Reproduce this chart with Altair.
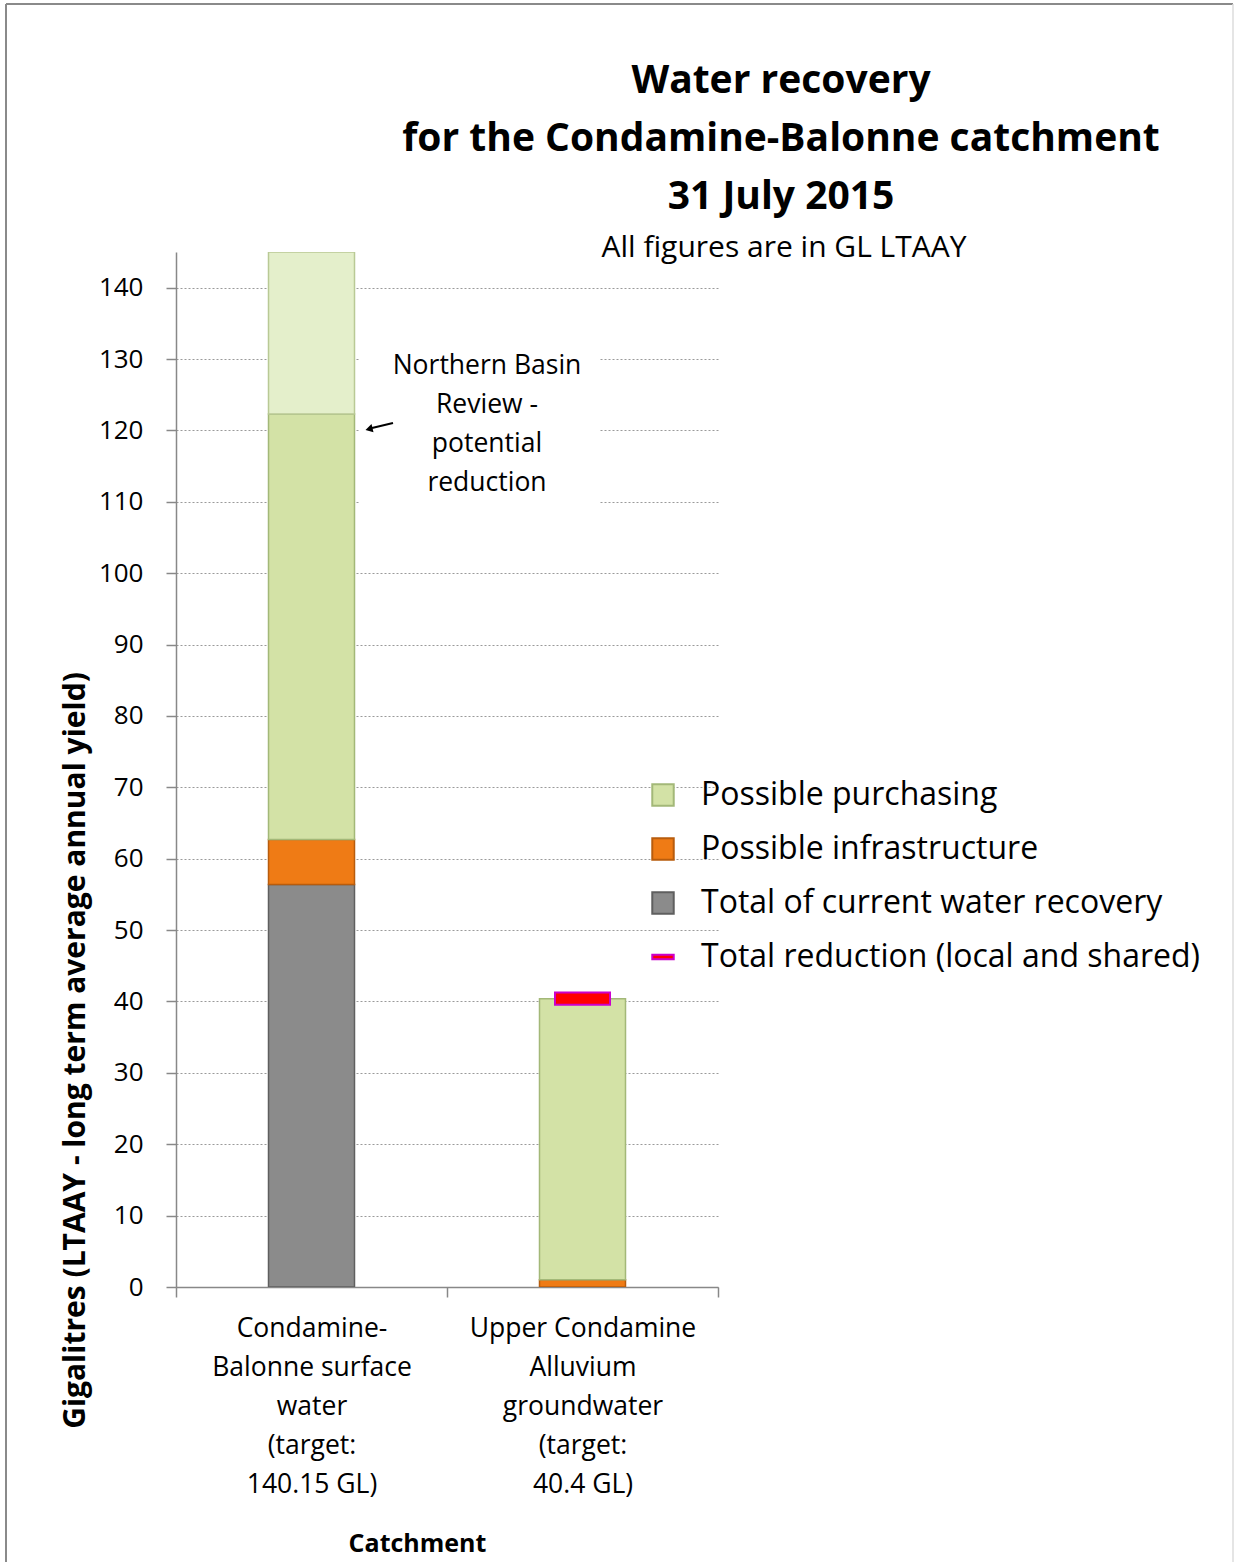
import altair as alt
import pandas as pd

# ---------------- data ----------------
categories = [
    "Condamine-|Balonne surface|water|(target:|140.15 GL)",
    "Upper Condamine|Alluvium|groundwater|(target:|40.4 GL)",
]
S_PURCH = "Possible purchasing"
S_INFRA = "Possible infrastructure"
S_CURR = "Total of current water recovery"
S_RED = "Total reduction (local and shared)"
S_NBR = "Northern Basin Review - potential reduction"

current_recovery = [56.4, 0.0]
possible_infrastructure = [6.3, 1.0]
possible_purchasing = [59.6, 39.4]
nbr_potential_reduction = [22.7, 0.0]
total_reduction = [None, 40.4]

title_lines = ["Water recovery", "for the Condamine-Balonne catchment", "31 July 2015"]
subtitle_text = "All figures are in GL LTAAY"
note_lines = ["Northern Basin", "Review -", "potential", "reduction"]

series_order = [S_PURCH, S_INFRA, S_CURR, S_RED, S_NBR]
fill_colors = ["#d3e2a6", "#ef7b15", "#8b8b8b", "#ff0000", "#e4efcb"]
stroke_colors = ["#a3b878", "#b85c0d", "#5f5f5f", "#cc00cc", "#b9c995"]
legend_values = [S_PURCH, S_INFRA, S_CURR, S_RED]
shape_range = ["square", "square", "square",
               "M-1,-0.22L1,-0.22L1,0.22L-1,0.22Z", "square"]

rows = []
stack_series = [(S_CURR, current_recovery), (S_INFRA, possible_infrastructure),
                (S_PURCH, possible_purchasing), (S_NBR, nbr_potential_reduction)]
for ci, cat in enumerate(categories):
    for si, (name, vals) in enumerate(stack_series):
        if vals[ci] > 0:
            rows.append({"category": cat, "series": name, "value": vals[ci], "order": si})
bars_df = pd.DataFrame(rows)

red_df = pd.DataFrame([
    {"category": categories[i], "series": S_RED, "value": v}
    for i, v in enumerate(total_reduction) if v is not None
])

FONT = "Open Sans"

legend = alt.Legend(
    orient="none", legendX=471, legendY=527, title=None, values=legend_values,
    labelFont=FONT, labelFontSize=32, labelColor="black", labelLimit=700,
    symbolSize=460, rowPadding=22, labelOffset=22, padding=0,
    symbolStrokeWidth=2,
)
color_scale = alt.Scale(domain=series_order, range=fill_colors)
stroke_scale = alt.Scale(domain=series_order, range=stroke_colors)
shape_scale = alt.Scale(domain=series_order, range=shape_range)

x_enc = alt.X(
    "category:N", sort=categories,
    scale=alt.Scale(paddingInner=0, paddingOuter=0),
    axis=alt.Axis(
        tickBand="extent", labelExpr="split(datum.label, '|')", labelAngle=0,
        labelFont=FONT, labelFontSize=26.5, labelLineHeight=39, labelPadding=18,
        labelLimit=400, labelColor="black", domainColor="#888888", domainWidth=1.5,
        tickColor="#888888", tickSize=10, tickWidth=1.5, grid=False,
        title="Catchment", titleFont=FONT, titleFontSize=25, titleFontWeight="bold",
        titleColor="black", titleX=241, titleY=256, titleBaseline="middle",
        titleAlign="center",
    ),
)
y_axis = alt.Axis(
    values=list(range(0, 150, 10)), grid=True, gridColor="#9a9a9a",
    gridDash=[2, 2], gridWidth=1, domainColor="#888888", domainWidth=1.5,
    tickColor="#888888", tickSize=10, tickWidth=1.5,
    labelFont=FONT, labelFontSize=26, labelPadding=23, labelColor="black",
    title="Gigalitres (LTAAY - long term average annual yield)",
    titleFont=FONT, titleFontSize=30, titleFontWeight="bold", titleColor="black",
    titleAngle=270, titleX=-101, titleY=798, titleAlign="center",
    titleBaseline="middle", titleLimit=1200,
)
y_scale = alt.Scale(domain=[0, 145], nice=False, zero=True)

bars = alt.Chart(bars_df).mark_bar(width=86, strokeWidth=1.5, clip=True).encode(
    x=x_enc,
    y=alt.Y("value:Q", stack="zero", scale=y_scale, axis=y_axis),
    color=alt.Color("series:N", scale=color_scale, legend=legend),
    stroke=alt.Stroke("series:N", scale=stroke_scale, legend=legend),
    order=alt.Order("order:Q"),
)

marker = alt.Chart(red_df).mark_point(
    filled=True, size=3025, strokeWidth=2, opacity=1
).encode(
    x=alt.X("category:N", sort=categories),
    y=alt.Y("value:Q"),
    color=alt.Color("series:N", scale=color_scale, legend=legend),
    stroke=alt.Stroke("series:N", scale=stroke_scale, legend=legend),
    shape=alt.Shape("series:N", scale=shape_scale, legend=legend),
)

one = pd.DataFrame({"k": [0]})
note_box = alt.Chart(one).mark_rect(color="white").encode(
    x=alt.value(184), x2=alt.value(424), y=alt.value(90), y2=alt.value(256)
)
note_text = alt.Chart(one).mark_text(
    text=note_lines, font=FONT, fontSize=26.5, lineHeight=39, align="center",
    baseline="middle", color="black",
).encode(x=alt.value(311), y=alt.value(114))
arrow_line = alt.Chart(one).mark_rule(color="black", strokeWidth=2).encode(
    x=alt.value(217), x2=alt.value(196), y=alt.value(171), y2=alt.value(176)
)
arrow_head = alt.Chart(one).mark_point(
    shape="triangle-left", filled=True, color="black", size=70, angle=346, opacity=1
).encode(x=alt.value(193), y=alt.value(177))

title_text = alt.Chart(one).mark_text(
    text=title_lines, font=FONT, fontSize=39, fontWeight="bold", lineHeight=58,
    align="center", baseline="middle", color="black",
).encode(x=alt.value(605), y=alt.value(-171))
subtitle = alt.Chart(one).mark_text(
    text=subtitle_text, font=FONT, fontSize=30, align="center",
    baseline="middle", color="black",
).encode(x=alt.value(608), y=alt.value(-4))

border_top = alt.Chart(one).mark_rule(color="#8a8a8a", strokeWidth=2).encode(
    x=alt.value(-170), x2=alt.value(1057), y=alt.value(-248)
)
border_left = alt.Chart(one).mark_rule(color="#8a8a8a", strokeWidth=2).encode(
    x=alt.value(-170), y=alt.value(-248), y2=alt.value(1320)
)
border_right = alt.Chart(one).mark_rule(color="#dddddd", strokeWidth=1.5).encode(
    x=alt.value(1057), y=alt.value(-248), y2=alt.value(1320)
)

chart = alt.layer(
    bars, marker, note_box, note_text, arrow_line, arrow_head, title_text, subtitle,
    border_top, border_left, border_right,
).properties(
    width=542, height=1035,
    autosize=alt.AutoSizeParams(type="none"),
    padding={"left": 176, "top": 252, "right": 516, "bottom": 275},
    background="white",
).configure_view(stroke=None)

chart.save("out.html", embed_options={"renderer": "svg", "actions": False})
